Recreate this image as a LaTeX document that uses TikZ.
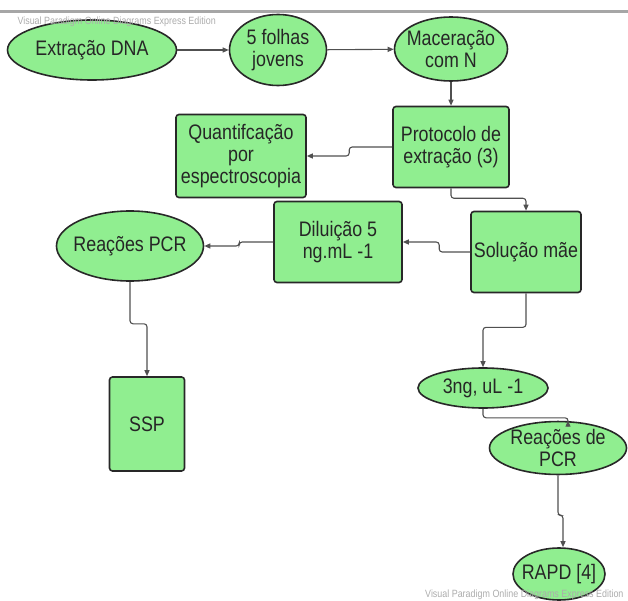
\documentclass[tikz,border=0pt]{standalone}
\usepackage{fontspec}
\setmainfont{Liberation Sans}[FakeStretch=0.85]
\usepackage{xcolor}
\usepackage{tikz}
\usetikzlibrary{calc}
\usetikzlibrary{shapes.geometric,arrows.meta}
\definecolor{leaf}{RGB}{144,238,144}
\definecolor{edge}{RGB}{40,40,40}
\definecolor{wire}{RGB}{80,80,80}
\tikzset{oval/.style={draw=edge, ellipse, fill=leaf, line width=1.6pt, inner xsep=-12pt, inner ysep=0pt, align=center, text=black!85}}
\tikzset{block/.style={draw=edge, rectangle, rounded corners=3pt, fill=leaf, line width=1.6pt, inner sep=0pt, align=center, text=black!85}}
\tikzset{link/.style={draw=wire, line width=1.1pt, rounded corners=3pt, -{Triangle[length=6pt,width=5pt]}}}

\begin{document}
\begin{tikzpicture}[x=1pt, y=-1pt, font=\fontsize{21}{22}\selectfont]
		\useasboundingbox (0,0) rectangle (628,601);
		\draw[gray!70, line width=3pt] (0,12) -- (628,12);

		\node[oval, minimum width=169pt, minimum height=60pt] (dna) at (92,50) {Extração DNA};
		\node[oval, minimum width=97pt, minimum height=71pt] (folhas) at (278,50) {5 folhas\\jovens};
		\node[oval, minimum width=113pt, minimum height=64pt] (macer) at (451,49) {Maceração\\com N};
		\node[block, minimum width=116pt, minimum height=81pt] (prot) at (451,147) {Protocolo de\\extração (3)};
		\node[block, minimum width=130pt, minimum height=83pt] (quant) at (241,156) {Quantifcação\\por\\espectroscopia};
		\node[block, minimum width=110pt, minimum height=81pt] (solu) at (526,252) {Solução mãe};
		\node[block, minimum width=128pt, minimum height=81pt] (dilu) at (338,242) {Diluição 5\\ng.mL -1};
		\node[oval, minimum width=147pt, minimum height=70pt] (pcr) at (130,246) {Reações PCR};
		\node[block, minimum width=75pt, minimum height=94pt] (ssp) at (147,424) {SSP};
		\node[oval, minimum width=130pt, minimum height=40pt] (ng) at (483,388) {3ng, uL -1};
		\node[oval, minimum width=137pt, minimum height=50pt] (pcrb) at (558,448) {Reações de\\PCR};
		\node[oval, minimum width=92pt, minimum height=52pt] (rapd) at (559,574) {RAPD [4]};

		\begin{scope}
			\draw[link] (dna) -- (folhas);
			\draw[link] (folhas) -- (macer);
			\draw[link] (macer) -- (prot);
			\draw[link] (prot.west) -- ++(-43,0) |- (quant.east);
			\draw[link] (prot.south) -- ++(0,10) -| (solu.north);
			\draw[link] (solu.west) -- ++(-31,0) |- (dilu.east);
			\draw[link] (dilu.west) -- ++(-34,0) |- (pcr.east);
			\draw[link] (pcr.south) -- ++(0,42) -| (ssp.north);
			\draw[link] (solu.south) -- ++(0,34) -| (ng.north);
			\draw[link] (ng.south) -- ++(0,9) -| ($(pcrb.north)+(10,0)$);
			\draw[link] (pcrb.south) -- ++(0,40) -| ($(rapd.north)+(4,0)$);
		\end{scope}

		\begin{scope}[font=\fontsize{10.5}{11}\selectfont, text=gray!65]
			\node[anchor=west] (wmtop) at (14,22) {Visual Paradigm Online Diagrams Express Edition};
			\node[anchor=east] (wmbot) at (627,595) {Visual Paradigm Online Diagrams Express Edition};
		\end{scope}
	\end{tikzpicture}
\end{document}
